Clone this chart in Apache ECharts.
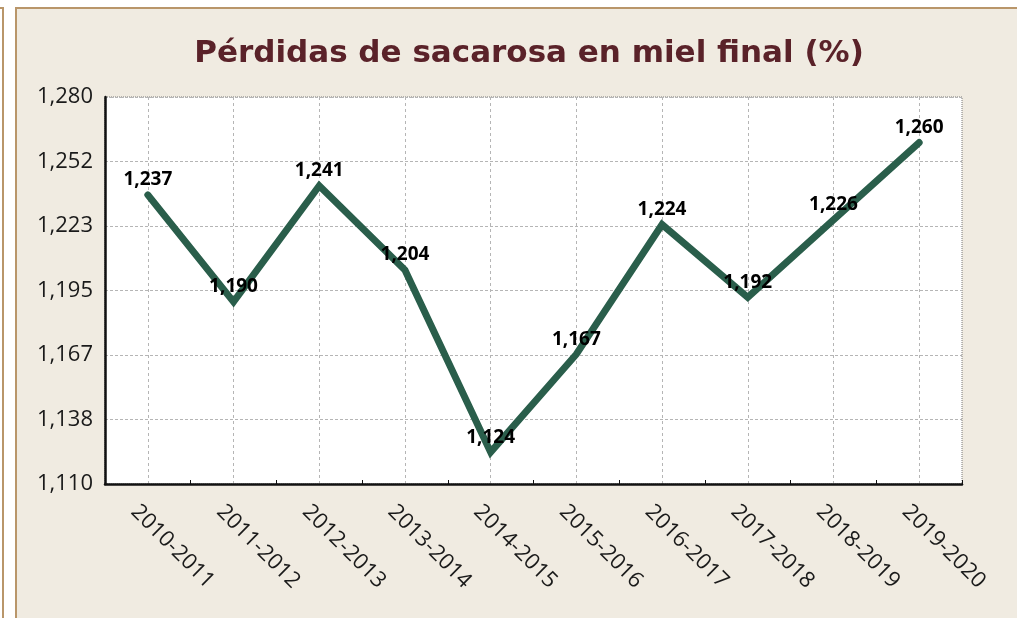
<!DOCTYPE html>
<html>
<head>
<meta charset="utf-8">
<script src="https://cdn.jsdelivr.net/npm/echarts@6/dist/echarts.min.js"></script>
<style>
  html, body { margin: 0; padding: 0; background: #ffffff; }
  #chart { width: 1017px; height: 618px; }
</style>
</head>
<body>
<div id="chart"></div>
<script>
// Zafras (harvest seasons)
const seasons = ['2010-2011', '2011-2012', '2012-2013', '2013-2014', '2014-2015',
                 '2015-2016', '2016-2017', '2017-2018', '2018-2019', '2019-2020'];
// Pérdidas de sacarosa en miel final (%)
const losses = [1.237, 1.190, 1.241, 1.204, 1.124, 1.167, 1.224, 1.192, 1.226, 1.260];
// Value axis range and number of divisions
const yMin = 1.110;
const yMax = 1.280;
const ySteps = 6;

const fmt = v => Number(v).toFixed(3).replace('.', ',');
const FONT = "'Open Sans', 'DejaVu Sans', sans-serif";
const TITLE_FONT = "'DejaVu Sans', 'Open Sans', sans-serif";
const TAN = '#b9966a';
const PANEL = '#f0ebe1';

const chart = echarts.init(document.getElementById('chart'), null, { renderer: 'canvas' });

chart.setOption({
  backgroundColor: '#ffffff',
  animation: false,
  graphic: [
    // panel background with its tan frame
    { type: 'rect', z: -10, shape: { x: 16, y: 8, width: 1010, height: 620 },
      style: { fill: PANEL, stroke: TAN, lineWidth: 2 } },
    // edge of the neighbouring panel on the left
    { type: 'rect', z: -10, shape: { x: -20, y: 8, width: 23, height: 620 },
      style: { fill: 'none', stroke: TAN, lineWidth: 2 } }
  ],
  title: {
    text: 'Pérdidas de sacarosa en miel final (%)',
    left: 524,
    top: 33,
    textAlign: 'center',
    textStyle: { fontFamily: TITLE_FONT, fontSize: 31, fontWeight: 'bold', color: '#5a2229' }
  },
  grid: {
    left: 105, right: 55, top: 97, bottom: 134,
    show: true,
    backgroundColor: '#ffffff',
    borderColor: '#777777',
    borderWidth: 1,
    borderType: 'dotted'
  },
  xAxis: {
    type: 'category',
    data: seasons,
    boundaryGap: true,
    axisLine: { show: true, onZero: false, lineStyle: { color: '#111111', width: 2.5 } },
    axisTick: { show: true, inside: true, length: 4, lineStyle: { color: '#111111', width: 1 } },
    splitLine: { show: true, alignWithLabel: true,
                 lineStyle: { color: '#b5b5b5', width: 1, type: [3, 3] } },
    axisLabel: {
      interval: 0,
      rotate: -45,
      align: 'left',
      verticalAlign: 'top',
      lineHeight: 38,
      margin: 11,
      fontFamily: FONT,
      fontSize: 22,
      color: '#1a1a1a'
    }
  },
  yAxis: {
    type: 'value',
    min: yMin,
    max: yMax,
    interval: (yMax - yMin) / ySteps,
    axisLine: { show: true, lineStyle: { color: '#111111', width: 2.5 } },
    axisTick: { show: false },
    splitLine: { show: true, lineStyle: { color: '#b5b5b5', width: 1, type: [3, 2] } },
    axisLabel: {
      margin: 12,
      fontFamily: FONT,
      fontSize: 22,
      color: '#1a1a1a',
      formatter: v => fmt(v)
    }
  },
  series: [{
    type: 'line',
    data: losses,
    symbol: 'circle',
    symbolSize: 1,
    itemStyle: { color: '#2a5e4b' },
    lineStyle: { color: '#2a5e4b', width: 7, cap: 'round', join: 'miter' },
    label: {
      show: true,
      position: 'top',
      distance: 5,
      fontFamily: FONT,
      fontSize: 19,
      fontWeight: 'bold',
      color: '#000000',
      formatter: p => fmt(p.value)
    }
  }]
});
</script>
</body>
</html>
